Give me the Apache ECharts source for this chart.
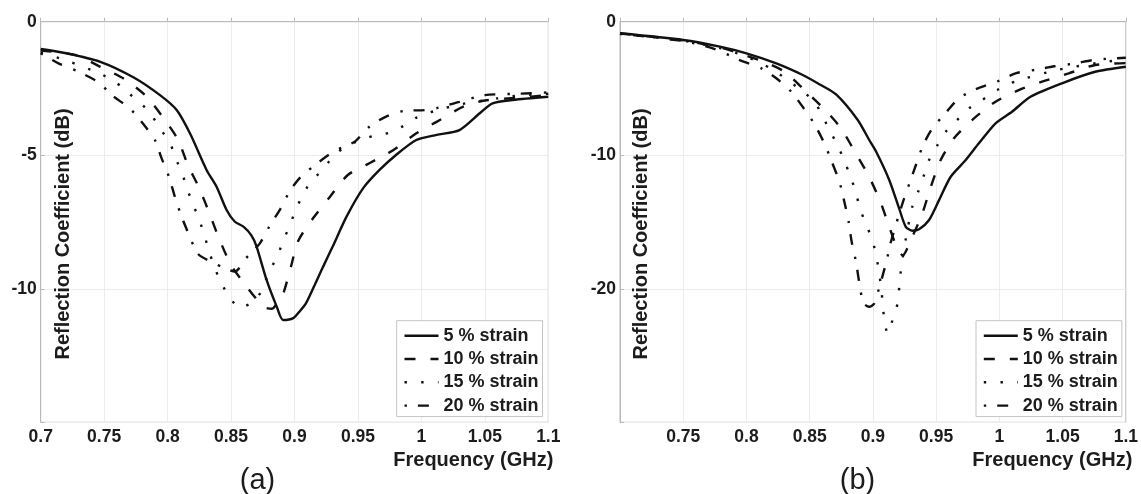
<!DOCTYPE html>
<html><head><meta charset="utf-8">
<script src="https://cdn.jsdelivr.net/npm/echarts@6/dist/echarts.min.js"></script>
<style>html,body{margin:0;padding:0;background:#fff}#c{width:1141px;height:494px}</style>
</head><body><div id="c"></div>
<script>
// ---------- DATA ----------
const seriesNames = ['5 % strain', '10 % strain', '15 % strain', '20 % strain'];
const panelLabels = ['(a)', '(b)'];
const xAxisTitle = 'Frequency (GHz)';
const yAxisTitle = 'Reflection Coefficient (dB)';

// Panel (a): [frequency GHz, reflection dB]
const a5 = [[0.700,-1.02],[0.720,-1.18],[0.747,-1.50],[0.773,-2.08],[0.794,-2.75],[0.807,-3.30],[0.8176,-4.18],[0.8307,-5.55],[0.8386,-6.18],[0.8465,-7.05],[0.853,-7.49],[0.860,-7.68],[0.866,-8.00],[0.870,-8.40],[0.878,-9.67],[0.886,-10.67],[0.891,-11.17],[0.899,-11.10],[0.904,-10.85],[0.909,-10.55],[0.916,-9.85],[0.9225,-9.18],[0.930,-8.43],[0.941,-7.30],[0.954,-6.24],[0.967,-5.55],[0.980,-4.99],[0.996,-4.43],[1.012,-4.24],[1.030,-4.06],[1.046,-3.43],[1.056,-3.06],[1.072,-2.93],[1.100,-2.81]];
const a10 = [[0.700,-1.08],[0.728,-1.25],[0.747,-1.69],[0.766,-2.15],[0.783,-2.78],[0.796,-3.56],[0.808,-4.40],[0.816,-5.37],[0.825,-6.24],[0.833,-7.18],[0.8405,-8.11],[0.850,-9.11],[0.862,-9.90],[0.8755,-10.67],[0.882,-10.75],[0.887,-10.50],[0.891,-10.20],[0.897,-9.21],[0.903,-8.20],[0.9146,-7.36],[0.928,-6.55],[0.942,-5.74],[0.959,-5.30],[0.978,-4.80],[0.996,-4.18],[1.012,-3.75],[1.033,-3.18],[1.050,-2.95],[1.075,-2.85],[1.100,-2.75]];
const a15 = [[0.700,-1.15],[0.720,-1.45],[0.747,-1.95],[0.760,-2.30],[0.770,-2.70],[0.785,-3.35],[0.7945,-4.03],[0.802,-4.55],[0.806,-5.08],[0.8115,-5.68],[0.8155,-6.27],[0.820,-6.83],[0.825,-7.43],[0.829,-7.99],[0.8325,-8.58],[0.837,-9.18],[0.8417,-9.74],[0.8485,-10.27],[0.8564,-10.71],[0.8674,-10.49],[0.8753,-9.99],[0.8792,-9.42],[0.8858,-8.86],[0.8905,-8.28],[0.8955,-7.71],[0.9002,-7.15],[0.9055,-6.58],[0.912,-6.05],[0.9205,-5.62],[0.929,-5.14],[0.938,-4.74],[0.9488,-4.49],[0.962,-4.28],[0.9745,-4.16],[0.986,-3.90],[0.9965,-3.58],[1.010,-3.35],[1.030,-3.10],[1.060,-2.87],[1.080,-2.75],[1.100,-2.70]];
const a20 = [[0.700,-1.18],[0.714,-1.56],[0.7296,-1.87],[0.746,-2.28],[0.756,-2.75],[0.770,-3.24],[0.7795,-3.75],[0.790,-4.43],[0.795,-5.08],[0.801,-5.80],[0.8057,-6.55],[0.811,-7.30],[0.817,-7.99],[0.824,-8.70],[0.837,-9.05],[0.846,-9.25],[0.853,-9.36],[0.8617,-8.86],[0.8727,-8.30],[0.880,-7.68],[0.889,-7.00],[0.8963,-6.34],[0.905,-5.81],[0.9186,-5.28],[0.932,-4.83],[0.9475,-4.49],[0.958,-3.97],[0.971,-3.58],[0.986,-3.34],[1.0026,-3.31],[1.0118,-3.24],[1.030,-3.00],[1.050,-2.75],[1.075,-2.70],[1.100,-2.65]];

// Panel (b): [frequency GHz, reflection dB]
const b5 = [[0.700,-0.87],[0.750,-1.37],[0.779,-1.87],[0.800,-2.37],[0.8236,-3.12],[0.8445,-3.99],[0.858,-4.70],[0.8709,-5.45],[0.888,-7.36],[0.8971,-8.86],[0.9024,-9.70],[0.9129,-11.85],[0.9208,-14.00],[0.926,-15.36],[0.9313,-15.65],[0.9365,-15.55],[0.9444,-14.85],[0.9523,-13.36],[0.9615,-11.61],[0.9734,-10.36],[0.9838,-9.11],[0.997,-7.61],[1.010,-6.74],[1.0246,-5.62],[1.0495,-4.61],[1.0758,-3.75],[1.100,-3.37]];
const b10 = [[0.700,-0.88],[0.750,-1.40],[0.780,-1.95],[0.800,-2.55],[0.815,-3.05],[0.8301,-3.75],[0.8459,-5.12],[0.8622,-6.61],[0.8748,-7.99],[0.8861,-9.81],[0.8963,-11.48],[0.9056,-13.41],[0.9129,-15.36],[0.9195,-17.05],[0.9235,-17.50],[0.9300,-16.35],[0.9391,-14.35],[0.9458,-12.36],[0.9536,-10.36],[0.9641,-8.73],[0.9799,-7.24],[0.997,-5.99],[1.0154,-5.12],[1.0337,-4.49],[1.0548,-3.87],[1.0758,-3.24],[1.100,-3.10]];
const b15 = [[0.700,-0.90],[0.750,-1.42],[0.780,-2.00],[0.800,-2.62],[0.820,-3.55],[0.840,-4.90],[0.8537,-5.99],[0.8603,-7.12],[0.8661,-8.16],[0.8721,-9.31],[0.8774,-10.36],[0.8819,-11.56],[0.8866,-12.73],[0.8892,-13.86],[0.894,-15.03],[0.8985,-16.10],[0.9024,-17.35],[0.9045,-18.60],[0.9063,-19.72],[0.9076,-20.97],[0.909,-22.30],[0.9116,-23.34],[0.9155,-22.35],[0.9195,-21.10],[0.9208,-19.90],[0.9221,-18.65],[0.9261,-16.20],[0.9313,-13.80],[0.936,-12.68],[0.9404,-11.48],[0.9444,-10.36],[0.951,-9.24],[0.9576,-8.24],[0.9667,-7.36],[0.976,-6.49],[0.9865,-5.86],[0.9983,-5.12],[1.0088,-4.61],[1.0206,-4.24],[1.0456,-3.62],[1.0834,-3.00],[1.100,-2.87]];
const b20 = [[0.700,-0.90],[0.750,-1.45],[0.775,-2.05],[0.7946,-2.87],[0.8117,-3.49],[0.8236,-4.24],[0.8354,-5.24],[0.8453,-6.49],[0.8537,-7.66],[0.8616,-9.11],[0.8675,-10.49],[0.8735,-11.98],[0.8774,-13.48],[0.8808,-14.98],[0.8832,-16.48],[0.8866,-17.98],[0.8892,-19.54],[0.8924,-21.05],[0.897,-21.35],[0.901,-21.10],[0.9103,-18.10],[0.9142,-16.50],[0.9234,-13.60],[0.9287,-12.16],[0.934,-10.73],[0.9397,-9.24],[0.947,-7.99],[0.9582,-6.76],[0.968,-5.74],[0.983,-4.99],[0.998,-4.49],[1.0133,-3.85],[1.0285,-3.60],[1.0435,-3.34],[1.060,-3.12],[1.0758,-2.85],[1.100,-2.70]];

const panelA = [a5, a10, a15, a20];
const panelB = [b5, b10, b15, b20];

// ---------- STYLE ----------
const lineTypes = ['solid', [11, 15], [2.4, 14.3], [2.4, 11, 11, 12]];
const FONT = 'Liberation Sans, Arial, Helvetica, sans-serif';
const INK = '#1c1c1c';
const FRAME = '#b9b9b9';
const GRIDC = '#ececec';

const grids = [
  { left: 40.7, top: 21.7, width: 507.6, height: 400.6 },
  { left: 620, top: 21.7, width: 507.3, height: 400.6 }
];

function xAxisFor(gi, hideMin) {
  return {
    type: 'value', gridIndex: gi, min: 0.7, max: 1.1, interval: 0.05,
    axisLine: { show: true, lineStyle: { color: FRAME } },
    axisTick: { show: true, inside: true, length: 4, lineStyle: { color: FRAME } },
    splitLine: { show: true, lineStyle: { color: GRIDC, width: 1 } },
    axisLabel: {
      margin: 6, color: INK, fontSize: 17.5, fontWeight: 'bold', fontFamily: FONT,
      showMinLabel: true, showMaxLabel: true,
      formatter: v => (hideMin && Math.abs(v - 0.7) < 1e-9) ? '' : String(+v.toFixed(2))
    }
  };
}
function yAxisFor(gi, minV, step) {
  return {
    type: 'value', gridIndex: gi, min: minV, max: 0, interval: step,
    axisLine: { show: true, lineStyle: { color: FRAME } },
    axisTick: { show: true, inside: true, length: 4, lineStyle: { color: FRAME } },
    splitLine: { show: true, lineStyle: { color: GRIDC, width: 1 } },
    axisLabel: {
      margin: 4, color: INK, fontSize: 17.5, fontWeight: 'bold', fontFamily: FONT,
      formatter: v => (Math.abs(v - minV) < 1e-9) ? '' : String(v)
    }
  };
}

const series = [];
[panelA, panelB].forEach((panel, gi) => {
  panel.forEach((data, i) => {
    series.push({
      name: seriesNames[i], type: 'line', xAxisIndex: gi, yAxisIndex: gi,
      data: data, symbol: 'none', showSymbol: false, smooth: 0.25,
      lineStyle: { color: '#111', width: 2.4, type: lineTypes[i], cap: 'butt' },
      itemStyle: { color: '#111' }, z: 3
    });
  });
});

function legendFor(left) {
  return {
    data: seriesNames, orient: 'vertical', left: left, top: 320.7,
    itemWidth: 34, itemHeight: 18, itemGap: 5.3,
    padding: [6, 4, 2, 6.6],
    borderColor: '#c4c4c4', borderWidth: 1, backgroundColor: '#fff',
    selectedMode: false,
    itemStyle: { opacity: 0 },
    lineStyle: { color: '#111', width: 2.4 },
    textStyle: { fontSize: 18, fontWeight: 'bold', color: INK, fontFamily: FONT, lineHeight: 18 }
  };
}

const graphics = [];
[[63, 40.7 + 507.6], [641, 620 + 507.3]].forEach((p, gi) => {
  graphics.push({
    type: 'text', x: p[0], y: 234, rotation: Math.PI / 2, z: 10,
    style: { text: yAxisTitle, fill: INK, font: 'bold 20px ' + FONT, textAlign: 'center', textVerticalAlign: 'middle' }
  });
  graphics.push({
    type: 'text', x: p[1] + 5, y: 460, z: 10,
    style: { text: xAxisTitle, fill: INK, font: 'bold 20px ' + FONT, textAlign: 'right', textVerticalAlign: 'middle' }
  });
});
graphics.push({ type: 'text', x: 257.5, y: 481, style: { text: panelLabels[0], fill: INK, font: '29px ' + FONT, textAlign: 'center', textVerticalAlign: 'middle' } });
graphics.push({ type: 'text', x: 857.5, y: 481, style: { text: panelLabels[1], fill: INK, font: '29px ' + FONT, textAlign: 'center', textVerticalAlign: 'middle' } });

const chart = echarts.init(document.getElementById('c'), null, { renderer: 'canvas' });
chart.setOption({
  animation: false,
  backgroundColor: '#fff',
  textStyle: { fontFamily: FONT },
  grid: grids.map(g => Object.assign({ show: true, borderColor: FRAME, borderWidth: 1, backgroundColor: 'transparent', containLabel: false }, g)),
  xAxis: [xAxisFor(0, false), xAxisFor(1, true)],
  yAxis: [yAxisFor(0, -15, 5), yAxisFor(1, -30, 10)],
  legend: [legendFor(396.7), legendFor(976)],
  series: series,
  graphic: graphics
});
</script></body></html>
